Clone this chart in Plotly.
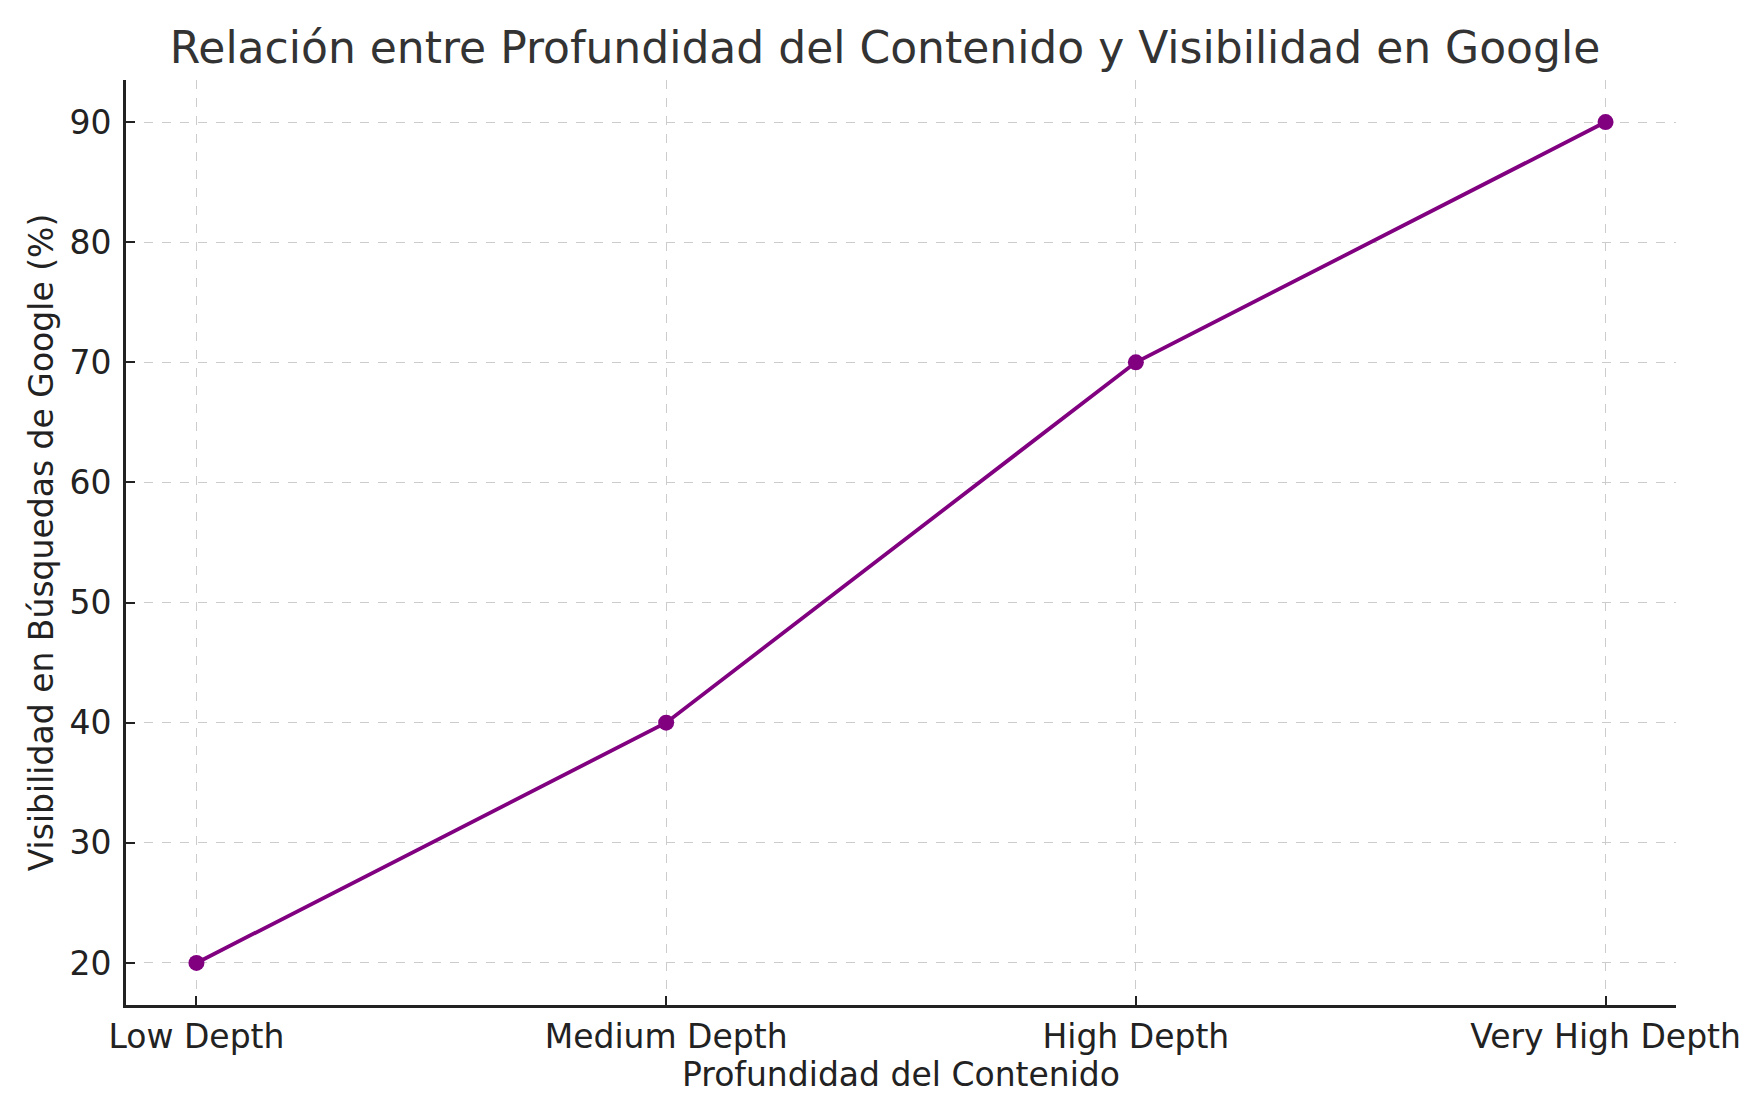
import plotly.graph_objects as go

categories = ["Low Depth", "Medium Depth", "High Depth", "Very High Depth"]
visibility = [20, 40, 70, 90]
y_ticks = [20, 30, 40, 50, 60, 70, 80, 90]

fig = go.Figure()
fig.add_trace(go.Scatter(
    x=list(range(len(categories))), y=visibility,
    mode="lines+markers",
    line=dict(color="#800080", width=3.8),
    marker=dict(color="#800080", size=16),
    showlegend=False,
))

axis_common = dict(
    showline=True, linecolor="#222222", linewidth=2.8,
    showgrid=True, gridcolor="#cccccc", gridwidth=1.3, griddash="dash",
    ticks="inside", ticklen=9, tickwidth=1.8, tickcolor="#222222",
    zeroline=False, mirror=False,
    tickfont=dict(family="DejaVu Sans", size=33, color="#222222"),
)

fig.update_layout(
    width=1754, height=1103,
    paper_bgcolor="white", plot_bgcolor="white",
    margin=dict(l=118, r=86, t=72, b=106),
    title=dict(text="Relación entre Profundidad del Contenido y Visibilidad en Google",
               x=0.5, xanchor="center", y=1 - 40/1103, yanchor="middle",
               font=dict(family="DejaVu Sans", size=44, color="#333333")),
    xaxis=dict(axis_common, tickmode="array", tickvals=list(range(len(categories))),
               ticktext=categories, range=[-0.15, 3.15],
               title=dict(text="Profundidad del Contenido", standoff=8,
                          font=dict(family="DejaVu Sans", size=33, color="#222222"))),
    yaxis=dict(axis_common, tickmode="array", tickvals=y_ticks, range=[16.5, 93.5],
               ticklabelstandoff=5,
               title=dict(text="Visibilidad en Búsquedas de Google (%)", standoff=6,
                          font=dict(family="DejaVu Sans", size=33, color="#222222"))),
)

fig.write_html("out.html")
